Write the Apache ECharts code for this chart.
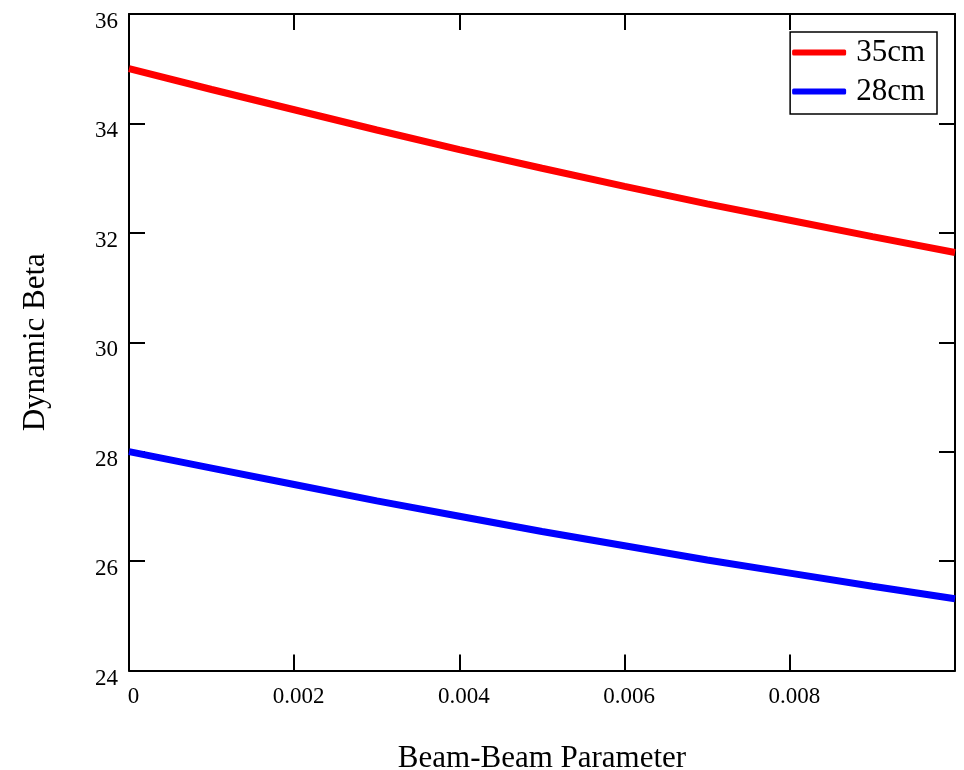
<!DOCTYPE html>
<html>
<head>
<meta charset="utf-8">
<script src="https://cdn.jsdelivr.net/npm/echarts@6/dist/echarts.min.js"></script>
<style>
html,body{margin:0;padding:0;background:#fff;}
#main{width:964px;height:770px;}
</style>
</head>
<body>
<div id="main"></div>
<script>
// Beam-beam parameter (x) and dynamic beta values
const xi = [0, 0.001, 0.002, 0.003, 0.004, 0.005, 0.006, 0.007, 0.008, 0.009, 0.01];
const beta35 = [35.00, 34.62, 34.25, 33.88, 33.52, 33.18, 32.85, 32.53, 32.23, 31.93, 31.64];
const beta28 = [28.00, 27.70, 27.40, 27.10, 26.82, 26.54, 26.28, 26.02, 25.78, 25.54, 25.31];
const seriesNames = ['35cm', '28cm'];
const xTitle = 'Beam-Beam Parameter';
const yTitle = 'Dynamic Beta';

const font = '"Liberation Serif", "Times New Roman", serif';
const chart = echarts.init(document.getElementById('main'), null, {renderer: 'canvas'});

const axisLine = {show: true, onZero: false, lineStyle: {color: '#000', width: 2}};
const axisTick = {show: true, inside: true, length: 16, lineStyle: {color: '#000', width: 2}};

const xBase = {type: 'value', min: 0, max: 0.01, interval: 0.002, splitLine: {show: false}};
const yBase = {type: 'value', min: 24, max: 36, interval: 2, splitLine: {show: false}};

chart.setOption({
  animation: false,
  backgroundColor: '#fff',
  grid: {left: 129, top: 14, right: 9, bottom: 99.5, containLabel: false, outerBoundsMode: 'none'},
  legend: {
    orient: 'vertical',
    right: 27,
    top: 32,
    data: seriesNames,
    icon: 'roundRect',
    itemWidth: 54,
    itemHeight: 6,
    itemGap: 8,
    borderColor: '#000',
    borderWidth: 1.5,
    borderRadius: 0,
    padding: [5, 12, 7, 2],
    textStyle: {fontFamily: font, fontSize: 31, color: '#000', padding: [0, 0, 0, 5]}
  },
  xAxis: [
    Object.assign({}, xBase, {
      position: 'bottom',
      name: xTitle,
      nameLocation: 'middle',
      nameGap: 73,
      nameTextStyle: {fontFamily: font, fontSize: 31, color: '#000'},
      axisLine: axisLine,
      axisTick: axisTick,
      axisLabel: {
        show: true, showMaxLabel: false, margin: 15,
        fontFamily: font, fontSize: 23, color: '#000',
        padding: [0, 0, 0, 9],
        formatter: v => (v === 0 ? '0' : String(+v.toFixed(4)))
      }
    }),
    Object.assign({}, xBase, {
      position: 'top',
      axisLine: axisLine,
      axisTick: axisTick,
      axisLabel: {show: false}
    })
  ],
  yAxis: [
    Object.assign({}, yBase, {
      position: 'left',
      name: yTitle,
      nameLocation: 'middle',
      nameRotate: 90,
      nameGap: 78,
      nameTextStyle: {fontFamily: font, fontSize: 31, color: '#000'},
      axisLine: axisLine,
      axisTick: axisTick,
      axisLabel: {
        show: true, margin: 11,
        fontFamily: font, fontSize: 23, color: '#000',
        verticalAlign: 'top', lineHeight: 16
      }
    }),
    Object.assign({}, yBase, {
      position: 'right',
      axisLine: axisLine,
      axisTick: axisTick,
      axisLabel: {show: false}
    })
  ],
  series: [
    {
      name: seriesNames[0], type: 'line', xAxisIndex: 0, yAxisIndex: 0,
      showSymbol: false, smooth: false, color: '#ff0000',
      lineStyle: {color: '#ff0000', width: 7},
      data: xi.map((x, i) => [x, beta35[i]])
    },
    {
      name: seriesNames[1], type: 'line', xAxisIndex: 0, yAxisIndex: 0,
      showSymbol: false, smooth: false, color: '#0000ff',
      lineStyle: {color: '#0000ff', width: 7},
      data: xi.map((x, i) => [x, beta28[i]])
    }
  ]
});
</script>
</body>
</html>
